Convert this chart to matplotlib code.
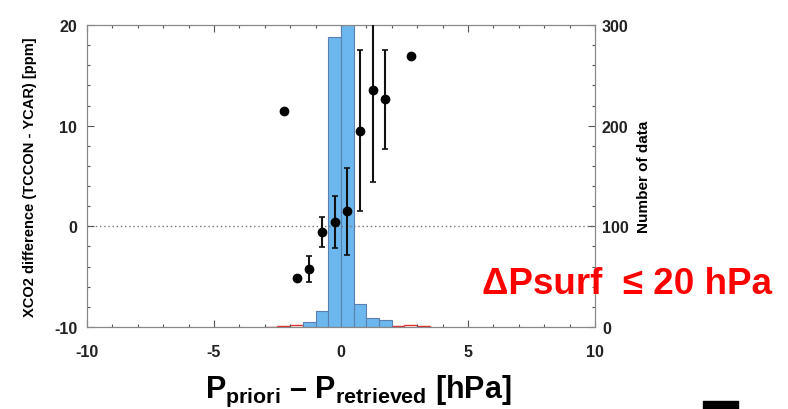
import matplotlib.pyplot as plt
import numpy as np
from matplotlib.patches import Rectangle

plt.rcParams['font.family'] = 'Liberation Sans'
plt.rcParams['font.weight'] = 'bold'
plt.rcParams['axes.unicode_minus'] = False
plt.rcParams['mathtext.fontset'] = 'custom'
plt.rcParams['mathtext.bf'] = 'Liberation Sans:bold'
plt.rcParams['mathtext.rm'] = 'Liberation Sans:bold'

# histogram of pressure differences (right axis, number of data)
bin_edges = [-1.5, -1.0, -0.5, 0.0, 0.5, 1.0, 1.5, 2.0]
bin_counts = [5, 16, 288, 340, 23, 9, 7]

# red reference histogram, only visible near the floor
red_edges = [-3.0, -2.5, -2.0, -1.5, -1.0, -0.5, 0.0, 0.5, 1.0, 1.5, 2.0, 2.5, 3.0, 3.5]
red_counts = [0, 1, 2, 1, 1, 1, 1, 1, 1, 1, 1, 2, 1]

# mean XCO2 difference per bin with std (left axis)
dp = [-2.25, -1.75, -1.25, -0.75, -0.25, 0.25, 0.75, 1.25, 1.75, 2.75]
dxco2 = [11.5, -5.1, -4.2, -0.6, 0.4, 1.5, 9.5, 13.5, 12.6, 16.9]
dxco2_err = [0, 0, 1.3, 1.5, 2.6, 4.3, 8.0, 9.1, 4.9, 0]

fig = plt.figure(figsize=(7.88, 4.10), dpi=100)
ax_h = fig.add_axes([0.1104, 0.2, 0.6446, 0.7366])

ax_h.stairs(red_counts, red_edges, color='#e03030', lw=1.0, zorder=1)
ax_h.bar(bin_edges[:-1], bin_counts, width=np.diff(bin_edges), align='edge',
         color='#6cb8ee', edgecolor='#5a7fb0', lw=0.8, zorder=2)
ax_h.set_ylim(0, 300)
ax_h.set_xlim(-10, 10)

ax_p = ax_h.twinx()
ax_p.yaxis.tick_left()
ax_p.yaxis.set_label_position('left')
ax_h.yaxis.tick_right()
ax_h.yaxis.set_label_position('right')

ax_h.set_yticks([0, 100, 200, 300])
ax_h.set_yticks(np.arange(0, 301, 20), minor=True)
ax_h.set_ylabel('Number of data', fontsize=11, fontweight='bold', labelpad=6)

ax_p.set_ylim(-10, 20)
ax_p.axhline(0, color='#777777', ls=(0, (1, 2)), lw=1.0, zorder=1)
has_err = [e > 0 for e in dxco2_err]
ax_p.errorbar([x for x, h in zip(dp, has_err) if h],
              [y for y, h in zip(dxco2, has_err) if h],
              yerr=[e for e in dxco2_err if e > 0],
              fmt='none', ecolor='#111111', elinewidth=1.5, capsize=2.5,
              capthick=1.2, zorder=3)
ax_p.plot(dp, dxco2, 'o', color='black', ms=6, zorder=4)
ax_p.set_yticks([-10, 0, 10, 20])
ax_p.set_yticks(np.arange(-10, 21, 2), minor=True)
ax_p.set_ylabel('XCO2 difference (TCCON - YCAR) [ppm]', fontsize=10.5,
                fontweight='bold', labelpad=12)

ax_h.set_xticks([-10, -5, 0, 5, 10])
ax_h.set_xticks(np.arange(-10, 11, 1), minor=True)

for a in (ax_h, ax_p):
    a.tick_params(which='both', direction='in', top=True, colors='#555555',
                  labelcolor='#222222', labelsize=11.5, width=0.8)
    a.tick_params(which='major', length=5)
    a.tick_params(which='minor', length=2.5)
    for s in a.spines.values():
        s.set_color('#888888')
        s.set_linewidth(0.8)
ax_h.tick_params(axis='y', which='both', left=False, labelleft=False,
                 right=True, labelright=True, pad=5)
ax_p.tick_params(axis='y', which='both', left=True, labelleft=True,
                 right=False, labelright=False, pad=7)
ax_h.tick_params(axis='x', pad=12)

fig.text(0.455, 0.045,
         r'$\mathbf{P_{priori}}$ – $\mathbf{P_{retrieved}}$ [hPa]',
         fontsize=22, fontweight='bold', color='black', ha='center', va='center')
fig.text(0.98, 0.305, 'ΔPsurf  ≤ 20 hPa', fontsize=26.5, fontweight='bold',
         color='#ff0000', ha='right', va='center')

fig.patches.append(Rectangle((703 / 788, 0), 35 / 788, 8 / 410,
                             transform=fig.transFigure, color='black'))

fig.savefig('out.png', dpi=100)
